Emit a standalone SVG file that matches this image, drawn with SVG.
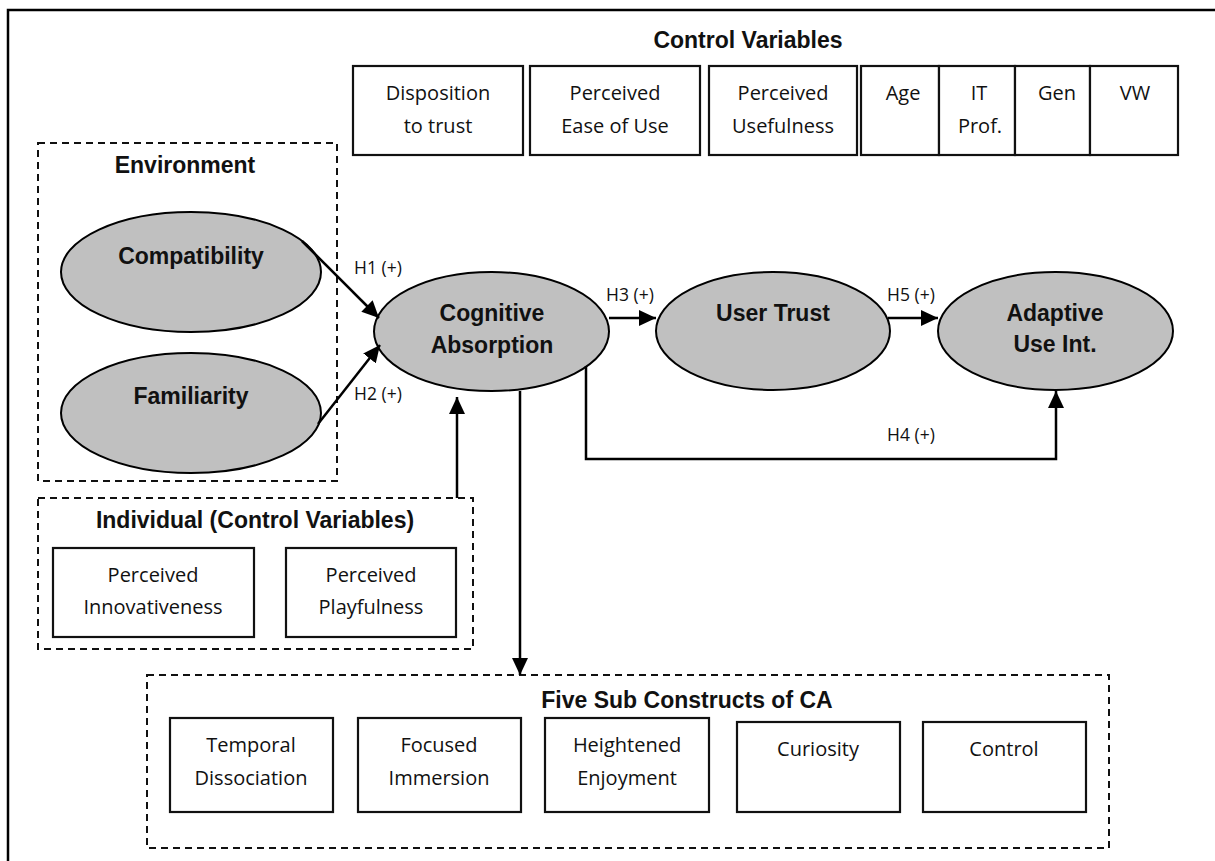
<svg xmlns="http://www.w3.org/2000/svg" width="1215" height="861" viewBox="0 0 1215 861">
<defs>
<style>
.frame{fill:none;stroke:#000;stroke-width:2.5}
.box{fill:#fff;stroke:#111;stroke-width:2.2}
.dash{fill:none;stroke:#111;stroke-width:2;stroke-dasharray:7 5}
.ell{fill:#c0c0c0;stroke:#000;stroke-width:2}
.conn{fill:none;stroke:#000;stroke-width:2.5}
.bt{font-family:"Liberation Sans",Arial,sans-serif;font-weight:bold;font-size:23px;text-anchor:middle;fill:#111}
.nt{font-family:"Open Sans","Noto Sans",sans-serif;font-size:20px;text-anchor:middle;fill:#111}
.ht{font-family:"Open Sans","Noto Sans",sans-serif;font-size:17.5px;text-anchor:middle;fill:#111}
</style>
<marker id="arr" markerUnits="userSpaceOnUse" markerWidth="18" markerHeight="16" refX="17" refY="8" orient="auto">
<path d="M0,0 L17,8 L0,16 z" fill="#000"/>
</marker>
</defs>
<rect width="1215" height="861" fill="#fff"/>
<path class="frame" d="M8,861 V10 H1215"/>

<g id="control-variables">
<text class="bt" x="748" y="48">Control Variables</text>
<g id="cv-disposition"><rect class="box" x="353" y="66" width="170" height="89"/><text class="nt" x="438" y="100">Disposition</text><text class="nt" x="438" y="133">to trust</text></g>
<g id="cv-peou"><rect class="box" x="530" y="66" width="170" height="89"/><text class="nt" x="615" y="100">Perceived</text><text class="nt" x="615" y="133">Ease of Use</text></g>
<g id="cv-pu"><rect class="box" x="709" y="66" width="148" height="89"/><text class="nt" x="783" y="100">Perceived</text><text class="nt" x="783" y="133">Usefulness</text></g>
<g id="cv-age"><rect class="box" x="861" y="66" width="78" height="89"/><text class="nt" x="903" y="100">Age</text></g>
<g id="cv-it"><rect class="box" x="939" y="66" width="76" height="89"/><text class="nt" x="979" y="100">IT</text><text class="nt" x="980" y="133">Prof.</text></g>
<g id="cv-gen"><rect class="box" x="1015" y="66" width="75" height="89"/><text class="nt" x="1057" y="100">Gen</text></g>
<g id="cv-vw"><rect class="box" x="1090" y="66" width="88" height="89"/><text class="nt" x="1135" y="100">VW</text></g>
</g>

<g id="environment">
<rect class="dash" x="38" y="143" width="299" height="338"/>
<text class="bt" x="185" y="173">Environment</text>
</g>
<g id="compatibility"><ellipse class="ell" cx="191" cy="272" rx="130" ry="60"/><text class="bt" x="191" y="264">Compatibility</text></g>
<g id="familiarity"><ellipse class="ell" cx="191" cy="413" rx="130" ry="60"/><text class="bt" x="191" y="404">Familiarity</text></g>

<g id="cognitive-absorption"><ellipse class="ell" cx="491.5" cy="331.5" rx="117.5" ry="59.5"/><text class="bt" x="492" y="321">Cognitive</text><text class="bt" x="492" y="353">Absorption</text></g>
<g id="user-trust"><ellipse class="ell" cx="773" cy="331" rx="117" ry="59"/><text class="bt" x="773" y="321">User Trust</text></g>
<g id="adaptive-use"><ellipse class="ell" cx="1055.5" cy="331" rx="117.5" ry="59"/><text class="bt" x="1055" y="321">Adaptive</text><text class="bt" x="1055" y="352">Use Int.</text></g>

<g id="individual">
<rect class="dash" x="38" y="498" width="435" height="151"/>
<text class="bt" x="255" y="528">Individual (Control Variables)</text>
<g id="ind-innov"><rect class="box" x="53" y="548" width="201" height="89"/><text class="nt" x="153" y="582">Perceived</text><text class="nt" x="153" y="614">Innovativeness</text></g>
<g id="ind-play"><rect class="box" x="286" y="548" width="170" height="89"/><text class="nt" x="371" y="582">Perceived</text><text class="nt" x="371" y="614">Playfulness</text></g>
</g>

<g id="five-sub">
<rect class="dash" x="147" y="675" width="962" height="173"/>
<text class="bt" x="687" y="708">Five Sub Constructs of CA</text>
<g id="sub-temporal"><rect class="box" x="170" y="718" width="163" height="94"/><text class="nt" x="251" y="752">Temporal</text><text class="nt" x="251" y="785">Dissociation</text></g>
<g id="sub-focused"><rect class="box" x="358" y="718" width="163" height="94"/><text class="nt" x="439" y="752">Focused</text><text class="nt" x="439" y="785">Immersion</text></g>
<g id="sub-heightened"><rect class="box" x="545" y="718" width="164" height="94"/><text class="nt" x="627" y="752">Heightened</text><text class="nt" x="627" y="785">Enjoyment</text></g>
<g id="sub-curiosity"><rect class="box" x="737" y="722" width="163" height="90"/><text class="nt" x="818" y="756">Curiosity</text></g>
<g id="sub-control"><rect class="box" x="923" y="722" width="163" height="90"/><text class="nt" x="1004" y="756">Control</text></g>
</g>

<g id="connectors">
<path class="conn" d="M302,241 L379,318" marker-end="url(#arr)"/>
<path class="conn" d="M318,424 L380,345" marker-end="url(#arr)"/>
<path class="conn" d="M609,318 L656,318" marker-end="url(#arr)"/>
<path class="conn" d="M888,318 L938,318" marker-end="url(#arr)"/>
<path class="conn" d="M586,366 V459 H1056 V391" marker-end="url(#arr)"/>
<path class="conn" d="M457,498 V397" marker-end="url(#arr)"/>
<path class="conn" d="M520,391 V675" marker-end="url(#arr)"/>
<text class="ht" x="378" y="274">H1 (+)</text>
<text class="ht" x="378" y="400">H2 (+)</text>
<text class="ht" x="630" y="301">H3 (+)</text>
<text class="ht" x="911" y="301">H5 (+)</text>
<text class="ht" x="911" y="441">H4 (+)</text>
</g>
</svg>
